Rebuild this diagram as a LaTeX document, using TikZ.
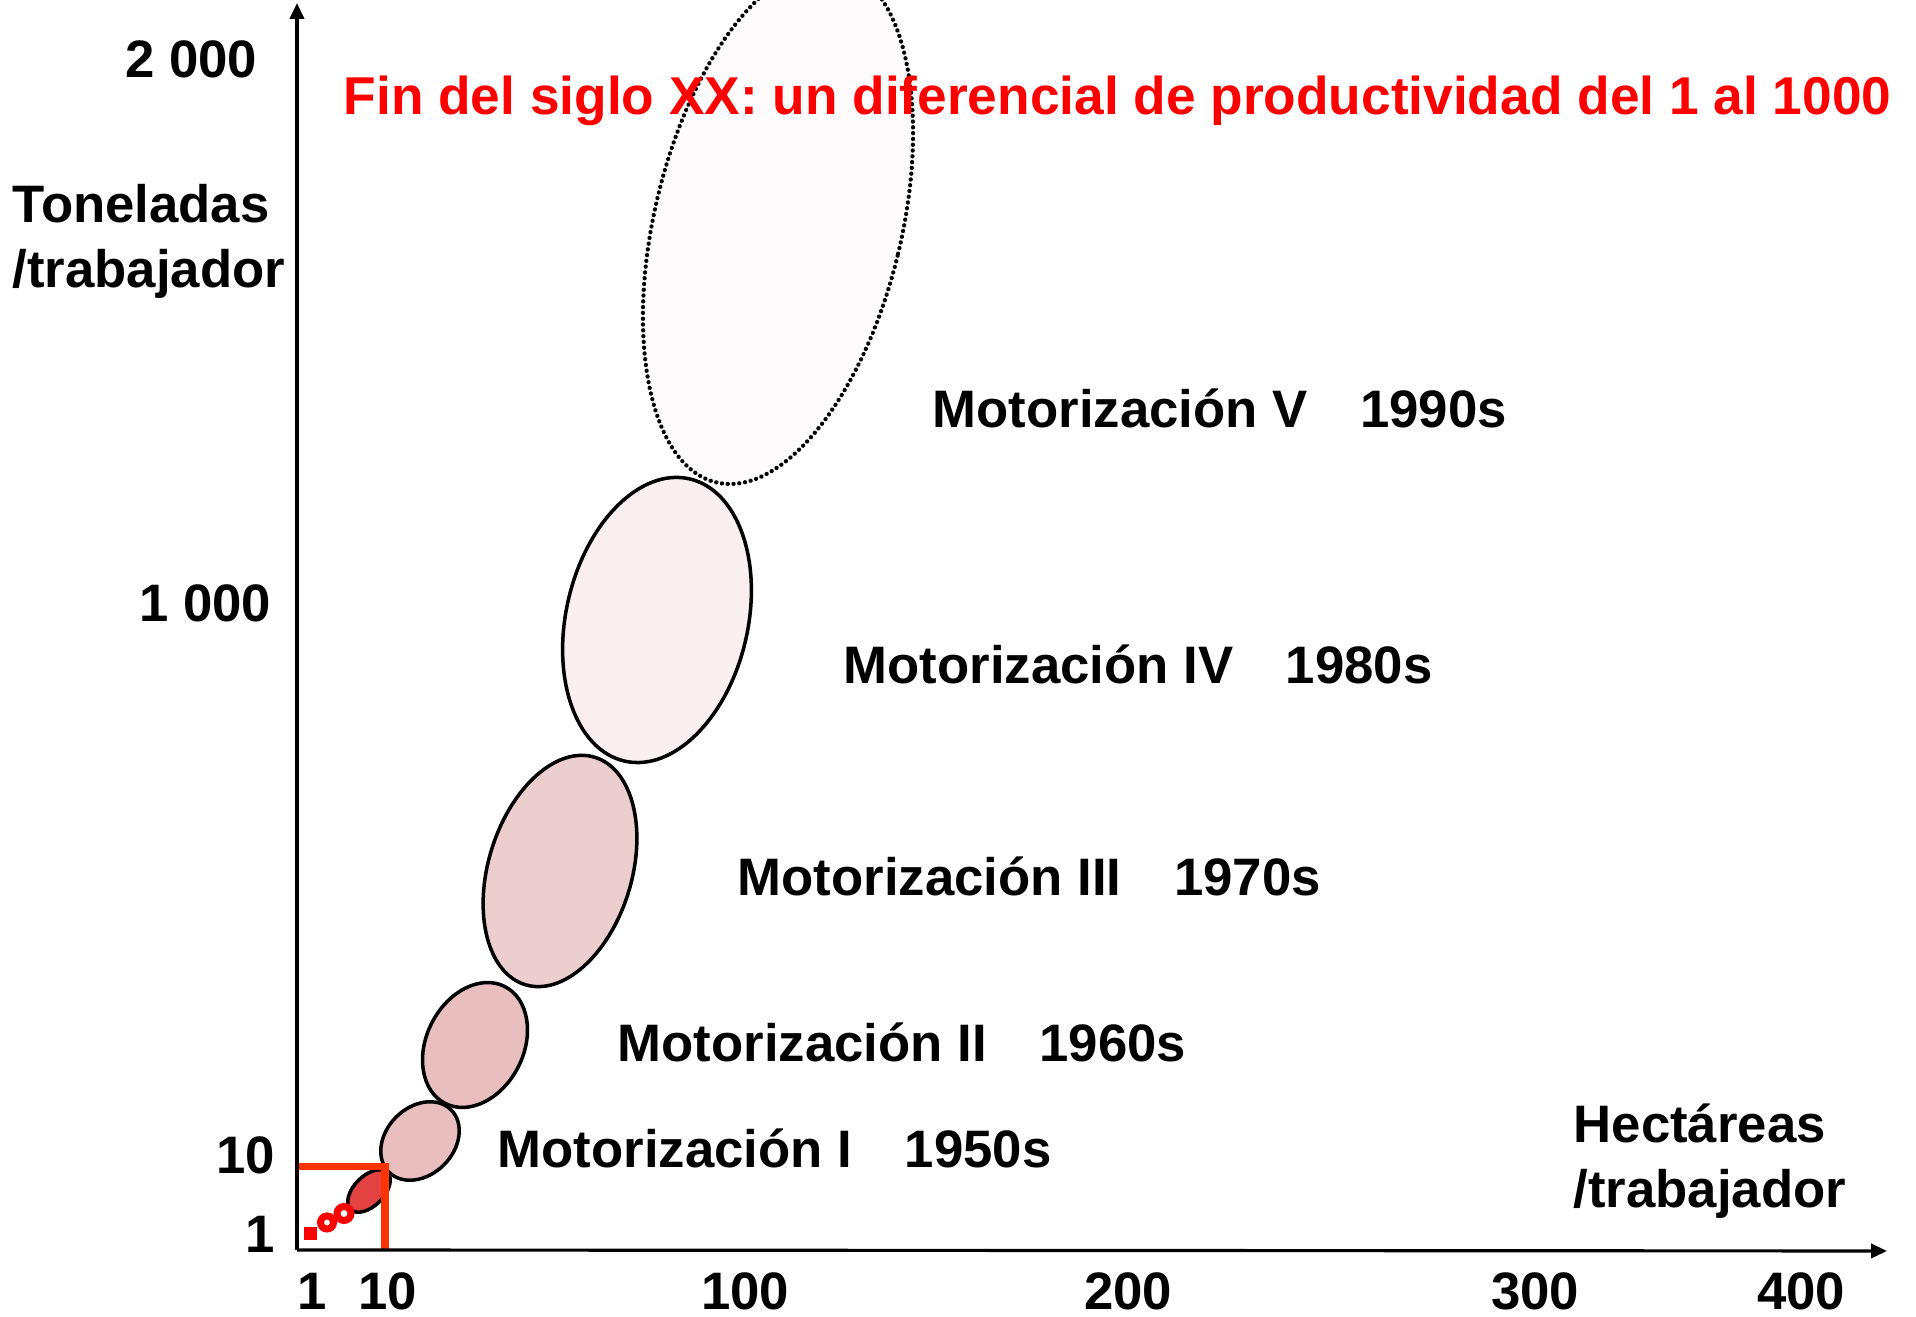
\documentclass[tikz,border=0pt]{standalone}
\usepackage{fontspec}
\setmainfont{Liberation Sans}
\usetikzlibrary{arrows.meta}
\definecolor{cornerred}{RGB}{255,51,0}
\definecolor{fillzero}{RGB}{226,66,66}
\definecolor{fillone}{RGB}{232,190,190}
\definecolor{filltwo}{RGB}{232,190,190}
\definecolor{fillthree}{RGB}{237,206,206}
\definecolor{fillfour}{RGB}{249,239,239}
\definecolor{fillfive}{RGB}{253,251,251}

\begin{document}
\begin{tikzpicture}[
    lbl/.style={font=\fontsize{15}{18.5}\selectfont\bfseries, inner sep=0pt},
    motor/.style={lbl, anchor=base west},
    ytick/.style={lbl, anchor=east},
    xtick/.style={lbl, anchor=center},
    blob/.style={draw=black, line width=1pt},
    axisline/.style={line width=0.9pt, -{Triangle[length=4.5pt,width=4pt]}}]
    \clip (0,0) rectangle (19.16,13.17);
    \coordinate (O) at (2.97,0.67);
    \coordinate (ytip) at (2.97,13.14);
    \coordinate (xtip) at (18.87,0.66);
    \coordinate (corner) at (3.85,1.50);

    % ellipses, largest first
    \filldraw [blob, fill=fillfive, line width=1.2pt, dash pattern=on 0.05pt off 1.6pt, line cap=round]
        (7.78,10.92) ellipse [x radius=1.235cm, y radius=2.647cm, rotate=-13.5];
    \filldraw [blob, fill=fillfour] (6.57,6.97) ellipse [x radius=0.909cm, y radius=1.448cm, rotate=-13];
    \filldraw [blob, fill=fillthree] (5.60,4.46) ellipse [x radius=0.717cm, y radius=1.189cm, rotate=-17];
    \filldraw [blob, fill=filltwo] (4.75,2.72) ellipse [x radius=0.485cm, y radius=0.656cm, rotate=-27];
    \filldraw [blob, fill=fillone] (4.20,1.76) ellipse [x radius=0.338cm, y radius=0.44cm, rotate=-45];
    \filldraw [blob, fill=fillzero] (3.69,1.26) ellipse [x radius=0.15cm, y radius=0.26cm, rotate=-45];

    % red corner and markers
    \draw [cornerred, line width=2pt] (O |- corner) -- (corner) -- (corner |- O);
    \fill [red] (3.04,0.77) rectangle (3.17,0.90);
    \draw [red, line width=2pt, fill=white] (3.27,0.945) circle [radius=0.065cm];
    \draw [red, line width=2pt, fill=white] (3.44,1.035) circle [radius=0.07cm];

    % axes
    \draw [axisline] (O) -- (ytip);
    \draw [axisline] (O) -- (xtip);

    % labels
    \node [lbl, font=\fontsize{15.15}{18.5}\selectfont\bfseries, anchor=base west, text=red] (title) at (3.43,12.02)
        {Fin del siglo XX: un diferencial de productividad del 1 al 1000};
    \node [lbl, anchor=base west, align=left] (ylabel) at (0.12,10.29) {Toneladas\\/trabajador};
    \node [lbl, anchor=base west, align=left] (xlabel) at (15.73,1.09) {Hectáreas\\/trabajador};
    \node [ytick] (y2000) at (2.58,12.58) {2 000};
    \node [ytick] (y1000) at (2.72,7.14) {1 000};
    \node [ytick] (y10) at (2.76,1.62) {10};
    \node [ytick] (y1) at (2.76,0.83) {1};
    \node [xtick] (x1) at (3.12,0.26) {1};
    \node [xtick] (x10) at (3.88,0.26) {10};
    \node [xtick] (x100) at (7.45,0.26) {100};
    \node [xtick] (x200) at (11.28,0.26) {200};
    \node [xtick] (x300) at (15.35,0.26) {300};
    \node [xtick] (x400) at (18.01,0.26) {400};
    \node [motor] (motV) at (9.32,8.89) {Motorización V\quad 1990s};
    \node [motor] (motIV) at (8.43,6.33) {Motorización IV\quad 1980s};
    \node [motor] (motIII) at (7.37,4.21) {Motorización III\quad 1970s};
    \node [motor] (motII) at (6.17,2.55) {Motorización II\quad 1960s};
    \node [motor] (motI) at (4.97,1.49) {Motorización I\quad 1950s};
\end{tikzpicture}
\end{document}
